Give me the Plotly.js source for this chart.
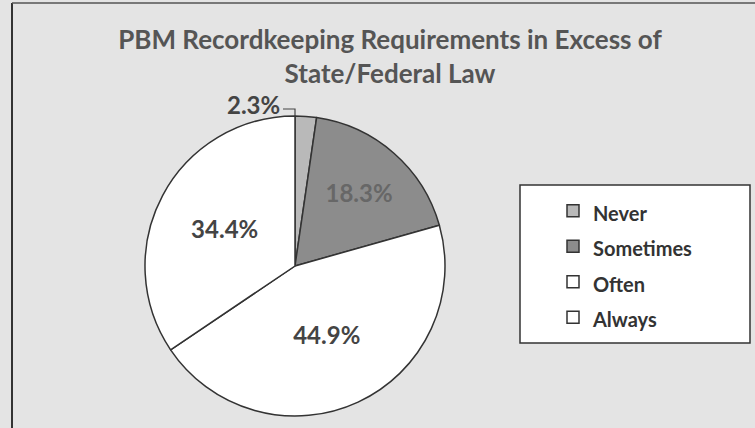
<!DOCTYPE html>
<html>
<head>
<meta charset="utf-8">
<script src="https://cdn.plot.ly/plotly-3.0.1.min.js"></script>
<style>html,body{margin:0;padding:0;background:#e6e6e6;}#chart{width:755px;height:428px;}</style>
</head>
<body>
<div id="chart"></div>
<script>
const categories = ["Never", "Sometimes", "Often", "Always"];
const shares = [2.3, 18.3, 44.9, 34.4];
const sliceColors = ["#b9b9b9", "#8c8c8c", "#ffffff", "#ffffff"];
const labelColors = ["#444444", "#676767", "#444444", "#444444"];
const labelPositions = ["none", "inside", "inside", "inside"];
const chartTitle = "PBM Recordkeeping Requirements in Excess of<br>State/Federal Law";

const W = 755, H = 428;
const cx = 295, cy = 266, r = 150;
const FONT = "Lato, 'Open Sans', sans-serif";

const trace = {
  type: "pie",
  labels: categories,
  values: shares,
  sort: false,
  direction: "clockwise",
  rotation: 0,
  marker: { colors: sliceColors, line: { color: "#333333", width: 1.5 } },
  texttemplate: "%{value:.1f}%",
  textposition: labelPositions,
  insidetextorientation: "horizontal",
  textfont: { family: FONT, size: 24, color: labelColors, weight: "bold" },
  hoverinfo: "skip",
  domain: { x: [(cx - r) / W, (cx + r) / W], y: [(H - cy - r) / H, (H - cy + r) / H] },
  showlegend: true
};

// the small "Never" slice is labelled outside, with a leader to the slice edge
const tipX = cx, tipY = cy - r;
const labelRightX = tipX - 13, labelY = tipY - 12;

const layout = {
  width: W, height: H,
  margin: { l: 0, r: 0, t: 0, b: 0 },
  paper_bgcolor: "#e4e4e4",
  plot_bgcolor: "#e4e4e4",
  title: {
    text: chartTitle,
    x: 390 / W, xanchor: "center",
    y: 1 - 49 / H, yanchor: "top",
    font: { family: FONT, size: 26, color: "#555555", weight: "bold" }
  },
  legend: {
    x: 553 / W, xanchor: "left",
    y: 1 - 188 / H, yanchor: "top",
    bgcolor: "rgba(0,0,0,0)",
    borderwidth: 0,
    font: { family: FONT, size: 25, color: "#333333", weight: "bold" },
    itemclick: false, itemdoubleclick: false
  },
  annotations: [
    { xref: "paper", yref: "paper", x: labelRightX / W, y: 1 - labelY / H,
      xanchor: "right", yanchor: "middle", showarrow: false,
      text: shares[0].toFixed(1) + "%",
      font: { family: FONT, size: 24, color: "#444444", weight: "bold" } }
  ],
  shapes: [
    { type: "rect", xref: "paper", yref: "paper", layer: "below",
      x0: 520 / W, x1: 750 / W, y0: 1 - 343 / H, y1: 1 - 185 / H,
      fillcolor: "#ffffff", line: { color: "#333333", width: 1.5 } },
    { type: "line", xref: "paper", yref: "paper",
      x0: 12 / W, x1: 12 / W, y0: 0, y1: 1 - 3 / H, line: { color: "#333333", width: 2 } },
    { type: "line", xref: "paper", yref: "paper",
      x0: 12 / W, x1: 1, y0: 1 - 3 / H, y1: 1 - 3 / H, line: { color: "#555555", width: 1.5 } },
    { type: "path", xref: "paper", yref: "paper",
      path: "M " + ((labelRightX + 1) / W) + "," + (1 - (labelY + 5) / H) +
            " L " + (tipX / W) + "," + (1 - (labelY + 5) / H) +
            " L " + (tipX / W) + "," + (1 - tipY / H),
      line: { color: "#444444", width: 1.2 } }
  ]
};

Plotly.newPlot("chart", [trace], layout, { displayModeBar: false, staticPlot: true }).then(function (gd) {
  gd.querySelectorAll(".legendtext").forEach(function (t) {
    t.style.fontSize = "20px";
  });
});
</script>
</body>
</html>
